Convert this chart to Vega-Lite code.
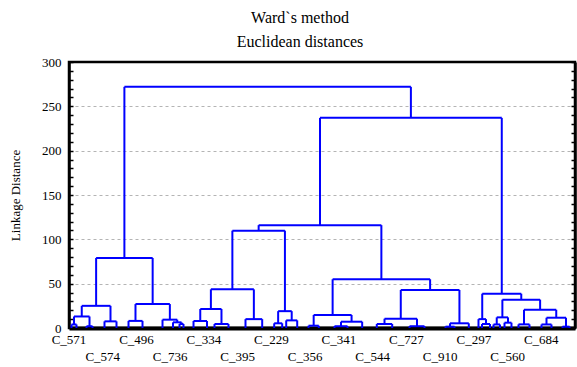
{
  "$schema": "https://vega.github.io/schema/vega-lite/v6.json",
  "width": 506,
  "height": 266,
  "autosize": {"type": "none"},
  "padding": {"left": 69, "top": 62, "right": 2, "bottom": 39},
  "background": "white",
  "title": {
    "text": ["Ward`s method", "Euclidean distances"],
    "font": "Liberation Serif",
    "fontSize": 16,
    "fontWeight": "normal",
    "color": "black",
    "anchor": "middle",
    "frame": "group",
    "dx": -22,
    "offset": 6,
    "lineHeight": 24
  },
  "config": {
    "view": {"stroke": "black", "strokeWidth": 2.5},
    "text": {"font": "Liberation Serif"}
  },
  "datasets": {
    "merges": [
      {"node": "n1", "xl": 0.74, "xr": 2.22, "h": 4, "hl": 0, "hr": 0},
      {"node": "n2", "xl": 5.19, "xr": 6.97, "h": 2, "hl": 0, "hr": 0},
      {"node": "A1a", "xl": 1.48, "xr": 6.08, "h": 13, "hl": 4, "hr": 2},
      {"node": "A1b", "xl": 10.52, "xr": 14.08, "h": 7.5, "hl": 0, "hr": 0},
      {"node": "A1", "xl": 3.78, "xr": 12.3, "h": 25, "hl": 13, "hr": 7.5},
      {"node": "A2a", "xl": 17.64, "xr": 21.79, "h": 8, "hl": 0, "hr": 0},
      {"node": "n4", "xl": 32.76, "xr": 33.94, "h": 4.5, "hl": 0, "hr": 0},
      {"node": "n5", "xl": 30.83, "xr": 33.35, "h": 6.4, "hl": 0, "hr": 4.5},
      {"node": "A2b", "xl": 27.72, "xr": 32.09, "h": 9.4, "hl": 0, "hr": 6.4},
      {"node": "A2", "xl": 19.71, "xr": 29.9, "h": 27, "hl": 8, "hr": 9.4},
      {"node": "A", "xl": 8.04, "xr": 24.8, "h": 79, "hl": 25, "hr": 27},
      {"node": "P1", "xl": 36.91, "xr": 40.91, "h": 7.9, "hl": 0, "hr": 0},
      {"node": "P2", "xl": 43.13, "xr": 47.28, "h": 4.5, "hl": 0, "hr": 0},
      {"node": "P", "xl": 38.91, "xr": 45.2, "h": 21.4, "hl": 7.9, "hr": 4.5},
      {"node": "Q", "xl": 52.32, "xr": 57.27, "h": 10, "hl": 0, "hr": 0},
      {"node": "B1a1", "xl": 42.06, "xr": 54.8, "h": 43.6, "hl": 21.4, "hr": 10},
      {"node": "n6", "xl": 60.83, "xr": 63.2, "h": 5.3, "hl": 0, "hr": 0},
      {"node": "n7", "xl": 64.39, "xr": 67.65, "h": 8.6, "hl": 0, "hr": 0},
      {"node": "B1a2", "xl": 62.0, "xr": 66.02, "h": 19, "hl": 5.3, "hr": 8.6},
      {"node": "B1a", "xl": 48.43, "xr": 64.01, "h": 109.8, "hl": 43.6, "hr": 19},
      {"node": "n8", "xl": 71.0, "xr": 74.05, "h": 2.6, "hl": 0, "hr": 0},
      {"node": "n9", "xl": 78.7, "xr": 82.56, "h": 2, "hl": 0, "hr": 0},
      {"node": "n10", "xl": 80.63, "xr": 86.91, "h": 7.1, "hl": 2, "hr": 0},
      {"node": "S", "xl": 72.53, "xr": 83.77, "h": 14.7, "hl": 2.6, "hr": 7.1},
      {"node": "n11", "xl": 91.24, "xr": 95.81, "h": 4.5, "hl": 0, "hr": 0},
      {"node": "n12", "xl": 100.94, "xr": 105.38, "h": 2, "hl": 0, "hr": 0},
      {"node": "T1", "xl": 93.53, "xr": 103.16, "h": 10.5, "hl": 4.5, "hr": 2},
      {"node": "n13", "xl": 111.61, "xr": 114.28, "h": 1.5, "hl": 0, "hr": 0},
      {"node": "T2", "xl": 112.95, "xr": 118.52, "h": 5.3, "hl": 1.5, "hr": 0},
      {"node": "T", "xl": 98.35, "xr": 115.74, "h": 42.9, "hl": 10.5, "hr": 5.3},
      {"node": "B1b", "xl": 78.15, "xr": 107.05, "h": 55, "hl": 14.7, "hr": 42.9},
      {"node": "B1", "xl": 56.22, "xr": 92.6, "h": 116, "hl": 109.8, "hr": 55},
      {"node": "n14", "xl": 122.43, "xr": 124.8, "h": 4.5, "hl": 0, "hr": 0},
      {"node": "U", "xl": 121.39, "xr": 123.62, "h": 10, "hl": 0, "hr": 4.5},
      {"node": "n15", "xl": 125.84, "xr": 127.76, "h": 4, "hl": 0, "hr": 0},
      {"node": "n16", "xl": 129.1, "xr": 131.17, "h": 6, "hl": 0, "hr": 0},
      {"node": "V1", "xl": 126.8, "xr": 130.14, "h": 12, "hl": 4, "hr": 6},
      {"node": "n17", "xl": 133.25, "xr": 136.51, "h": 4.1, "hl": 0, "hr": 0},
      {"node": "n18", "xl": 140.07, "xr": 143.03, "h": 4, "hl": 0, "hr": 0},
      {"node": "n19", "xl": 146.29, "xr": 148.37, "h": 1.5, "hl": 0, "hr": 0},
      {"node": "n20", "xl": 141.55, "xr": 147.33, "h": 11.6, "hl": 4, "hr": 1.5},
      {"node": "V2", "xl": 134.88, "xr": 144.44, "h": 20.6, "hl": 4.1, "hr": 11.6},
      {"node": "V", "xl": 128.47, "xr": 139.66, "h": 32, "hl": 12, "hr": 20.6},
      {"node": "B2", "xl": 122.5, "xr": 134.07, "h": 38.7, "hl": 10, "hr": 32},
      {"node": "B", "xl": 74.41, "xr": 128.29, "h": 237, "hl": 116, "hr": 38.7},
      {"node": "R", "xl": 16.42, "xr": 101.35, "h": 272, "hl": 79, "hr": 237}
    ],
    "labels": [
      {"label": "C_571", "pos": 0, "row": 0},
      {"label": "C_574", "pos": 10, "row": 1},
      {"label": "C_496", "pos": 20, "row": 0},
      {"label": "C_736", "pos": 30, "row": 1},
      {"label": "C_334", "pos": 40, "row": 0},
      {"label": "C_395", "pos": 50, "row": 1},
      {"label": "C_229", "pos": 60, "row": 0},
      {"label": "C_356", "pos": 70, "row": 1},
      {"label": "C_341", "pos": 80, "row": 0},
      {"label": "C_544", "pos": 90, "row": 1},
      {"label": "C_727", "pos": 100, "row": 0},
      {"label": "C_910", "pos": 110, "row": 1},
      {"label": "C_297", "pos": 120, "row": 0},
      {"label": "C_560", "pos": 130, "row": 1},
      {"label": "C_684", "pos": 140, "row": 0}
    ]
  },
  "layer": [
    {
      "data": {"name": "merges"},
      "mark": {"type": "rule", "color": "#0000ff", "strokeWidth": 2},
      "encoding": {
        "x": {
          "field": "xl", "type": "quantitative",
          "scale": {"domain": [0, 150], "nice": false, "zero": false},
          "axis": {
            "orient": "bottom",
            "title": null,
            "labels": false,
            "ticks": false,
            "grid": false,
            "domain": true,
            "domainColor": "black",
            "domainWidth": 4
          }
        },
        "x2": {"field": "xr"},
        "y": {
          "field": "h", "type": "quantitative",
          "scale": {"domain": [0, 300], "nice": false, "zero": true},
          "axis": {
            "orient": "left",
            "values": [0, 10, 20, 30, 40, 50, 60, 70, 80, 90, 100, 110, 120, 130, 140, 150, 160, 170, 180, 190, 200, 210, 220, 230, 240, 250, 260, 270, 280, 290, 300],
            "labelExpr": "datum.value % 50 === 0 ? datum.label : ''",
            "labelOverlap": false,
            "labelBound": false,
            "labelFlush": false,
            "tickSize": -4,
            "tickColor": "black",
            "tickWidth": 1.5,
            "domainColor": "black",
            "domainWidth": 2.5,
            "labelFont": "Liberation Serif",
            "labelFontSize": 13,
            "labelColor": "black",
            "labelPadding": 12,
            "title": "Linkage Distance",
            "titleFont": "Liberation Serif",
            "titleFontSize": 13,
            "titleFontWeight": "normal",
            "titleColor": "black",
            "titlePadding": 19,
            "grid": true,
            "gridColor": "#b4b4b4",
            "gridDash": [3, 3],
            "gridWidth": 1,
            "gridOpacity": {"condition": {"test": "datum.value % 50 === 0 && datum.value > 0 && datum.value < 300", "value": 1}, "value": 0}
          }
        }
      }
    },
    {
      "data": {"name": "merges"},
      "mark": {"type": "rule", "color": "#0000ff", "strokeWidth": 2},
      "encoding": {
        "x": {"field": "xl", "type": "quantitative"},
        "y": {
          "field": "hl", "type": "quantitative",
          "axis": {
            "orient": "right",
            "values": [0, 10, 20, 30, 40, 50, 60, 70, 80, 90, 100, 110, 120, 130, 140, 150, 160, 170, 180, 190, 200, 210, 220, 230, 240, 250, 260, 270, 280, 290, 300],
            "labels": false,
            "title": null,
            "grid": false,
            "domain": true,
            "domainColor": "black",
            "domainWidth": 2.5,
            "tickSize": -4,
            "tickColor": "black",
            "tickWidth": 1.5
          }
        },
        "y2": {"field": "h"}
      }
    },
    {
      "data": {"name": "merges"},
      "mark": {"type": "rule", "color": "#0000ff", "strokeWidth": 2},
      "encoding": {
        "x": {"field": "xr", "type": "quantitative"},
        "y": {"field": "hr", "type": "quantitative", "axis": null},
        "y2": {"field": "h"}
      }
    },
    {
      "data": {"name": "labels"},
      "transform": [{"filter": "datum.row === 0"}],
      "mark": {"type": "text", "font": "Liberation Serif", "fontSize": 13, "color": "black", "baseline": "top", "align": "center", "dy": 6},
      "encoding": {
        "x": {"field": "pos", "type": "quantitative"},
        "y": {"datum": 0, "type": "quantitative", "axis": null},
        "text": {"field": "label"}
      }
    },
    {
      "data": {"name": "labels"},
      "transform": [{"filter": "datum.row === 1"}],
      "mark": {"type": "text", "font": "Liberation Serif", "fontSize": 13, "color": "black", "baseline": "top", "align": "center", "dy": 23},
      "encoding": {
        "x": {"field": "pos", "type": "quantitative"},
        "y": {"datum": 0, "type": "quantitative", "axis": null},
        "text": {"field": "label"}
      }
    }
  ],
  "resolve": {"axis": {"y": "independent"}}
}
